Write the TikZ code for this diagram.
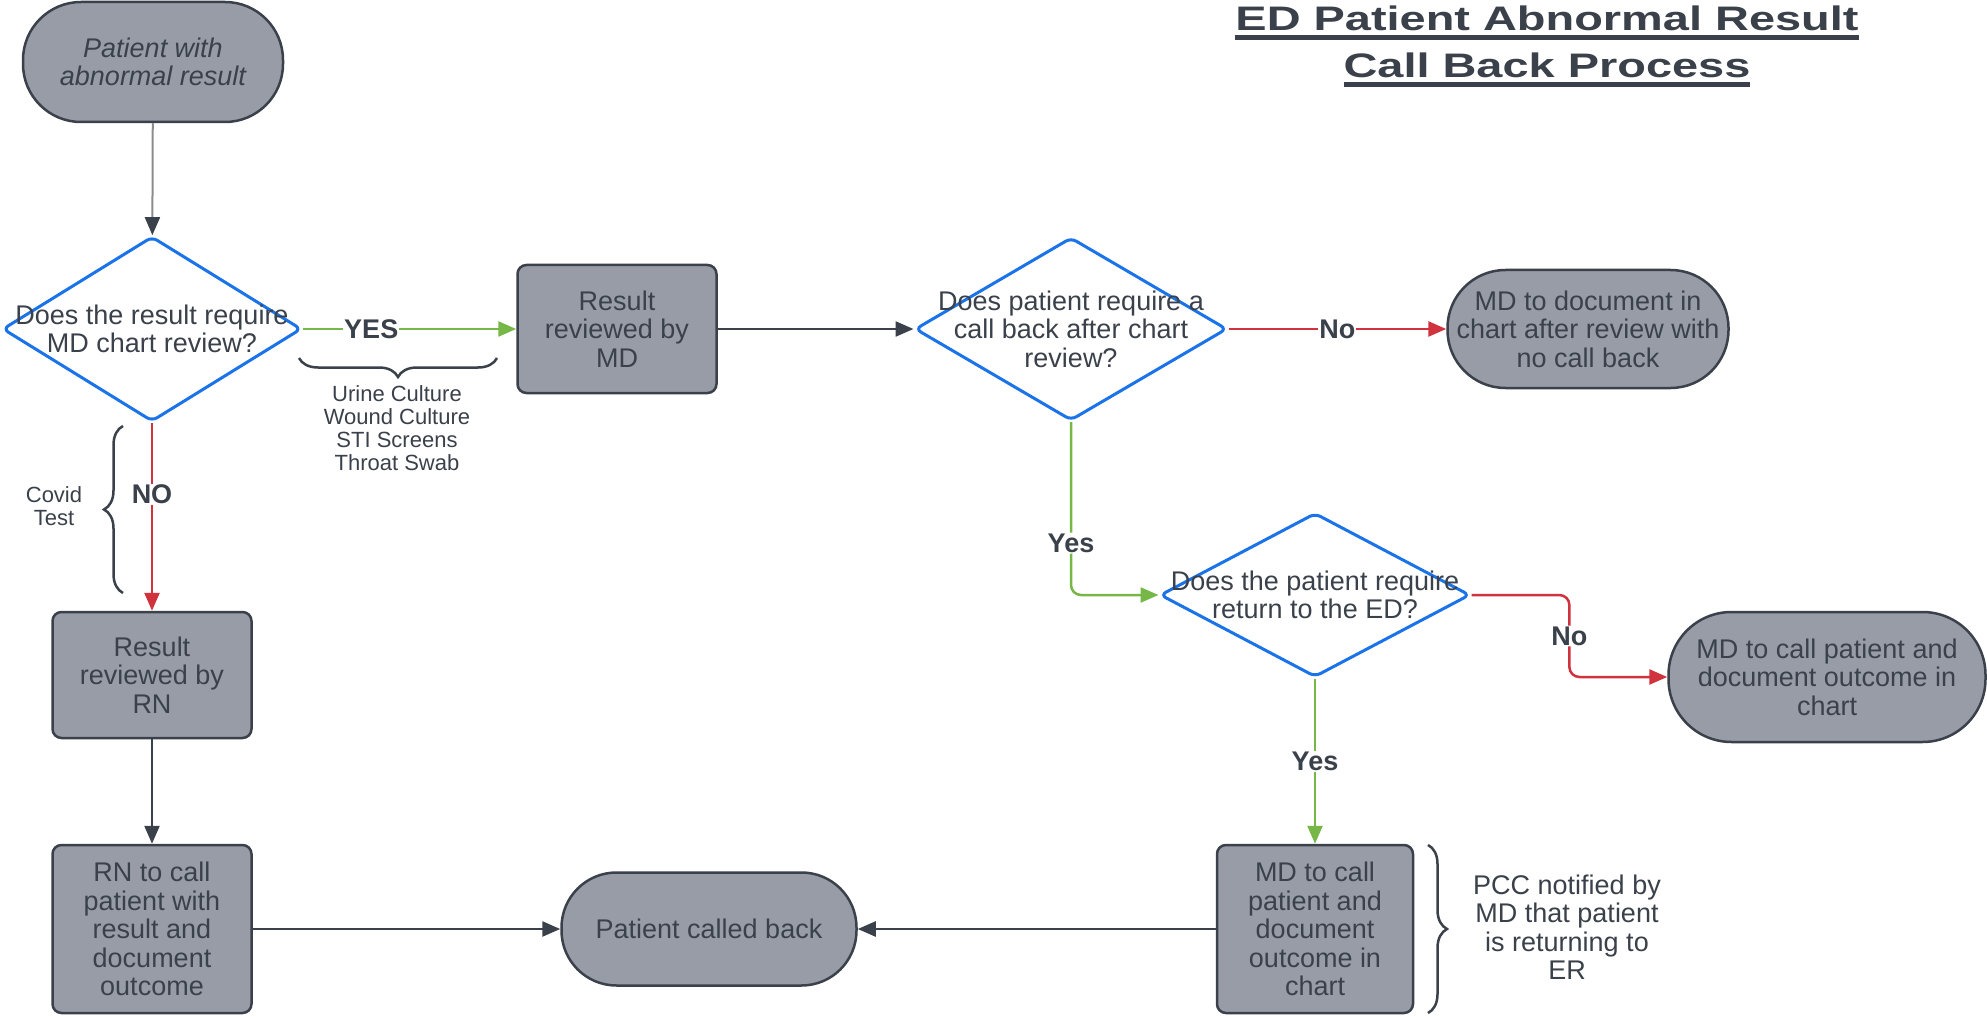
\documentclass[tikz,border=0pt]{standalone}
\usepackage{graphicx}
\usepackage{fontspec}
\setmainfont{Liberation Sans}
\usetikzlibrary{shapes.geometric,arrows.meta,decorations.pathreplacing,calc}
\definecolor{fillg}{HTML}{979CA6}
\definecolor{edge}{HTML}{3B414A}
\definecolor{txt}{HTML}{3B414A}
\definecolor{dblue}{HTML}{1A73E8}
\definecolor{lgreen}{HTML}{76B748}
\definecolor{lred}{HTML}{D0323E}
\definecolor{startline}{HTML}{8C8C8C}
\newsavebox\ulbox
\newcommand\ulmark[1]{\scalebox{1.38}[1]{\sbox\ulbox{#1}\rlap{\color{txt}\rule[-9pt]{\wd\ulbox}{5pt}}\usebox\ulbox}}
\begin{document}
\begin{tikzpicture}[x=1pt,y=-1pt,
  every node/.style={text=txt, font=\fontsize{27}{28.5}\selectfont, align=center, inner sep=0pt},
  box/.style={draw=edge, fill=fillg, line width=2.5pt, rounded corners=9pt, minimum width=199pt},
  term/.style={draw=edge, fill=fillg, line width=2.5pt},
  dia/.style={diamond, draw=dblue, line width=3pt, rounded corners=6pt, fill=white},
  arr/.style={line width=2.5pt, -{Triangle[length=18pt,width=15pt]}},
  darr/.style={arr, draw=edge},
  garr/.style={arr, draw=lgreen},
  rarr/.style={arr, draw=lred},
  lbl/.style={fill=white, font=\fontsize{27}{28}\selectfont\bfseries, inner sep=1pt},
  note/.style={font=\fontsize{22}{23}\selectfont},
  brc/.style={draw=edge, line width=2.5pt, decorate, decoration={brace, amplitude=19pt}},
  ttl/.style={font=\fontsize{34}{40}\selectfont\bfseries, anchor=base}
]
\fill[white] (0,0) rectangle (1987,1016);
\useasboundingbox (0,0) rectangle (1987,1016);

% title
\node[ttl] (title1) at (1547,31) {\ulmark{ED Patient Abnormal Result}};
\node[ttl] (title2) at (1547,78) {\ulmark{Call Back Process}};

% nodes
\node[term, rounded corners=58pt, minimum width=260pt, minimum height=120pt, font=\fontsize{27}{28.5}\selectfont\itshape] (start) at (153,62) {Patient with\\abnormal result};
\node[dia, minimum width=299pt, minimum height=185pt, label={center:{Does the result require\\MD chart review?}}] (d1) at (152,329) {};
\node[box, minimum height=128pt] (rmd) at (617,329) {Result\\reviewed by\\MD};
\node[dia, minimum width=312pt, minimum height=183pt, label={center:{Does patient require a\\call back after chart\\review?}}] (d2) at (1071,329) {};
\node[term, rounded corners=58pt, minimum width=281pt, minimum height=118pt] (t2) at (1588,329) {MD to document in\\chart after review with\\no call back};
\node[dia, minimum width=310pt, minimum height=164pt, label={center:{Does the patient require\\return to the ED?}}] (d3) at (1315,595) {};
\node[term, rounded corners=63pt, minimum width=317pt, minimum height=130pt] (t3) at (1827,677) {MD to call patient and\\document outcome in\\chart};
\node[box, minimum width=196pt, minimum height=168pt] (mdc) at (1315,929) {MD to call\\patient and\\document\\outcome in\\chart};
\node[term, rounded corners=55pt, minimum width=295pt, minimum height=113pt] (pcb) at (709,929) {Patient called back};
\node[box, minimum height=126pt] (rrn) at (152,675) {Result\\reviewed by\\RN};
\node[box, minimum height=168pt] (rnc) at (152,929) {RN to call\\patient with\\result and\\document\\outcome};

% notes
\node[note] (cult) at (397,428) {Urine Culture\\Wound Culture\\STI Screens\\Throat Swab};
\node[note] (covid) at (54,506) {Covid\\Test};
\node (pcc) at (1567,927) {PCC notified by\\MD that patient\\is returning to\\ER};

% braces
\draw[brc] (497,358) -- (299,358);
\draw[brc] (123,593) -- (123,426);
\draw[brc] (1428,845) -- (1428,1013);

% connectors
\draw[line width=2pt, draw=startline, -{Triangle[length=18pt,width=15pt,color=edge]}] (start) -- (d1);
\draw[garr] (d1) -- node[lbl, pos=0.32]{YES} (rmd);
\draw[darr] (rmd) -- (d2);
\draw[rarr] (d2) -- node[lbl]{No} (t2);
\draw[garr, rounded corners=10pt] (d2.south) |- node[lbl, pos=0.35]{Yes} (d3.west);
\coordinate (m3) at ($(d3.east)!0.5!(t3.west)$);
\draw[rarr, rounded corners=10pt] (d3.east) -| (m3) node[lbl]{No} |- (t3.west);
\draw[garr] (d3) -- node[lbl]{Yes} (mdc);
\draw[darr] (mdc) -- (pcb);
\draw[rarr] (d1) -- node[lbl, pos=0.38]{NO} (rrn);
\draw[darr] (rrn) -- (rnc);
\draw[darr] (rnc) -- (pcb);
\end{tikzpicture}
\end{document}
